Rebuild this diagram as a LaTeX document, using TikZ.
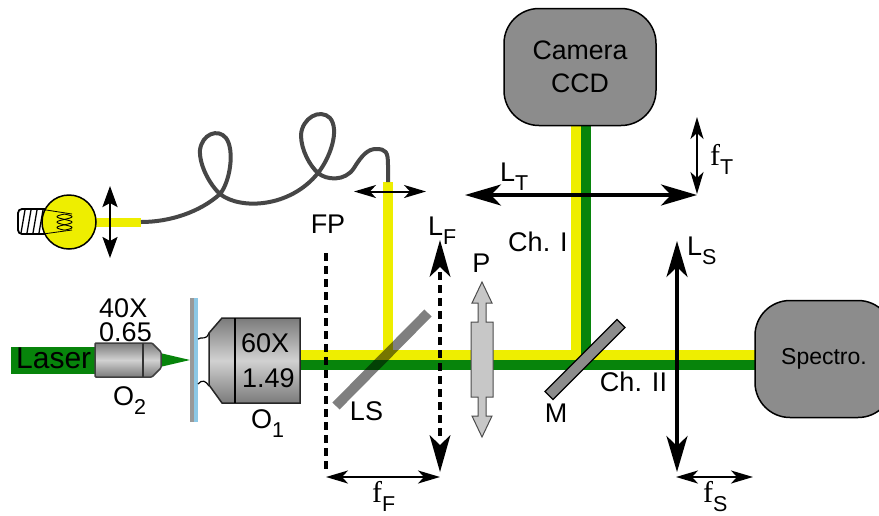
\documentclass[tikz,border=0pt]{standalone}
\usepackage{fontspec}
\setmainfont{Liberation Sans}
\newfontfamily\fserif{Liberation Serif}
\usetikzlibrary{arrows.meta,shapes.geometric}
\definecolor{beamG}{HTML}{07840B}
\definecolor{beamY}{HTML}{EEEE00}
\definecolor{boxG}{HTML}{8C8C8C}
\definecolor{fibreG}{HTML}{464646}
\definecolor{plateB}{HTML}{8CC8E6}
\newcommand{\sbs}[1]{\raisebox{-.36em}{\fontsize{21.5}{21.5}\selectfont #1}}
\newcommand{\ff}{{\fserif\fontsize{30}{30}\selectfont f}}
\tikzset{
  x=1pt,y=-1pt,
  lbl/.style={inner sep=0pt,font=\fontsize{27}{27}\selectfont},
  sublbl/.style={lbl,anchor=base west},
  beamy/.style={line width=10pt,draw=beamY},
  beamg/.style={line width=10pt,draw=beamG},
  bigarrow/.style={line width=3.5pt,{Stealth[length=36pt,width=21pt,inset=10pt]}-{Stealth[length=36pt,width=21pt,inset=10pt]}},
  lamparrow/.style={line width=2.5pt,{Stealth[length=21pt,width=15pt,inset=4pt]}-{Stealth[length=21pt,width=15pt,inset=4pt]}},
  smallarrow/.style={line width=2pt,{Stealth[length=22pt,width=13pt,inset=6pt]}-{Stealth[length=22pt,width=13pt,inset=6pt]}},
  darkbox/.style={draw=black,line width=1.5pt,fill=boxG,rounded corners=35pt,inner sep=0pt,align=center},
  objshade/.style={draw=black!75,line width=1.5pt,top color=black!52,bottom color=black!52,middle color=black!18},
}
\begin{document}
\begin{tikzpicture}
\useasboundingbox (0,0) rectangle (879,515);
\clip (0,0) rectangle (879,515);
% named points
\coordinate (objout) at (300,355);
\coordinate (lsy) at (388,355);
\coordinate (my) at (576,355);
\coordinate (specin) at (760,355);
\coordinate (objoutg) at (300,365);
\coordinate (mg) at (586,365);
\coordinate (specing) at (760,365);
\coordinate (fibreend) at (388,182);
\coordinate (camy) at (576,125);
\coordinate (camg) at (586,125);
\coordinate (bulbout) at (96,222);
\coordinate (fibrestart) at (141,222);
% beams
\draw[beamy] (fibreend) -- (lsy);
\draw[beamy,line join=miter] (objout) -- (my) -- (camy);
\draw[beamy] (my) -- (specin);
\draw[beamg] (objoutg) -- (specing);
\draw[beamg] (camg) -- (mg);
% camera and spectrometer
\node[darkbox,minimum width=152pt,minimum height=117pt,font=\fontsize{26.7}{33}\selectfont] (cam) at (580,67) {Camera\\CCD};
\node[darkbox,minimum width=138pt,minimum height=117pt,font=\fontsize{23}{26}\selectfont] (spec) at (824,359) {Spectro.};
% fibre
\draw[beamy,line width=9pt] (bulbout) -- (fibrestart);
\draw[draw=fibreG,line width=4pt,line cap=butt,line join=round]
  (fibrestart) .. controls (170,222) and (200,212) .. (220,194)
  .. controls (230,182) and (235,150) .. (226,138)
  .. controls (218,128) and (202,134) .. (200,150)
  .. controls (199,165) and (210,185) .. (220,194)
  .. controls (240,210) and (290,208) .. (318,173)
  .. controls (330,158) and (340,130) .. (330,118)
  .. controls (320,108) and (302,118) .. (301,135)
  .. controls (301,150) and (310,166) .. (318,173)
  .. controls (326,180) and (345,182) .. (354,168)
  .. controls (362,155) and (368,149) .. (376,149)
  .. controls (386,149) and (388,152) .. (388,165)
  -- (fibreend);
% bulb
\draw[black,line width=1.8pt,fill=white,rounded corners=4pt] (45,209) -- (18,209) -- (18,234) -- (45,234);
\foreach \a in {25,31,37,43}{\draw[black,line width=1.3pt] (\a,210) -- (\a-4,233);}
\node[circle,draw=black,line width=1.5pt,fill=beamY,minimum size=54pt,inner sep=0pt] (bulb) at (69,222) {};
\draw[black,line width=.8pt] (43,209.5) -- (72,214) (43,234) -- (72,230);
\draw[black,line width=.9pt,smooth] plot[variable=\t,domain=0:3,samples=45] ({64.5+7.5*sin(\t*180)},{214+\t*5.4});
\draw[black,line width=.9pt,smooth] plot[variable=\t,domain=0:3,samples=45] ({64.5-7.5*sin(\t*180)},{214+\t*5.4});
\draw[lamparrow] (110,186) -- (110,258);
\draw[smallarrow] (354,191.5) -- (426,191.5);
% laser and O2
\fill[beamG] (11,347) rectangle (95,374);
\fill[beamG] (160,353) -- (190,360) -- (160,367) -- cycle;
\draw[objshade,rounded corners=1pt] (95,343) -- (152,343) -- (161,352) -- (161,368) -- (152,377) -- (95,377) -- cycle;
\draw[black!80,line width=1.2pt] (143,343) -- (143,377);
% sample plate
\fill[black!40] (190,298) rectangle (194,422);
\fill[plateB] (194,298) rectangle (198,422);
% O1
\draw[black,line width=1.2pt] (198,339) .. controls (202,336) and (206,341) .. (209,333);
\draw[black,line width=1.2pt] (198,384) .. controls (202,379) and (206,381) .. (209,386);
\draw[objshade,draw=black!85] (209,333) -- (222,318) -- (300,318) -- (300,403) -- (222,403) -- (209,385) -- cycle;
\draw[black,line width=1.5pt] (235,318) -- (235,403);
% optics
\draw[black,line width=3.5pt,dash pattern=on 8pt off 5pt] (326,253) -- (326,470);
\coordinate (lft) at (440,240); \coordinate (lfb) at (440,472);
\draw[black,line width=4pt,dash pattern=on 8pt off 5pt,shorten >=32pt,shorten <=32pt] (lft) -- (lfb);
\fill[black] (lft) -- (450.5,277) -- (440,267) -- (429.5,277) -- cycle;
\fill[black] (lfb) -- (450.5,435) -- (440,445) -- (429.5,435) -- cycle;
\draw[black,opacity=.5,line width=10pt] (336,406) -- (428,313);
\draw[fill=black!22,draw=black!70,line width=1pt] (482,282) -- (492,303) -- (486,303) -- (486,322) -- (493,322) -- (493,397) -- (486,397) -- (486,416) -- (492,416) -- (482,437) -- (472,416) -- (478,416) -- (478,397) -- (471,397) -- (471,322) -- (478,322) -- (478,303) -- (472,303) -- cycle;
\draw[fill=boxG,draw=black,line width=1.2pt] (617,319.5) -- (625,327.5) -- (553,399.5) -- (545,391.5) -- cycle;
\draw[bigarrow] (465,195) -- (697,195);
\draw[bigarrow] (677,241) -- (677,472);
\draw[smallarrow] (697,117) -- (697,194);
\draw[smallarrow] (326,477) -- (440,477);
\draw[smallarrow] (676,477) -- (753,477);
% labels
\node[sublbl,font=\fontsize{30}{30}\selectfont] (tlaser) at (16,368) {Laser};
\node[lbl,align=left,font=\fontsize{27}{24}\selectfont] (t40) at (125.5,320) {40X\\0.65};
\node[sublbl] (to2) at (113,405) {O\sbs{2}};
\node[sublbl] (t60) at (241,352) {60X};
\node[sublbl] (t149) at (242,387) {1.49};
\node[sublbl] (to1) at (251,428) {O\sbs{1}};
\node[lbl] (tfp) at (328,224) {FP};
\node[sublbl] (tlf) at (428,235) {L\sbs{F}};
\node[lbl] (tp) at (481.5,263.5) {P};
\node[lbl] (tls) at (366.5,411) {LS};
\node[lbl] (tm) at (556,413) {M};
\node[sublbl] (tlt) at (500,181) {L\sbs{T}};
\node[sublbl] (tft) at (710,165) {\ff\sbs{T}};
\node[lbl] (tch1) at (538,242) {Ch. I};
\node[lbl] (tch2) at (633.5,382) {Ch. II};
\node[sublbl] (tlsl) at (687,255) {L\sbs{S}};
\node[sublbl] (tff) at (372,502) {\ff\sbs{F}};
\node[sublbl] (tfs) at (703,502) {\ff\sbs{S}};
\end{tikzpicture}
\end{document}
